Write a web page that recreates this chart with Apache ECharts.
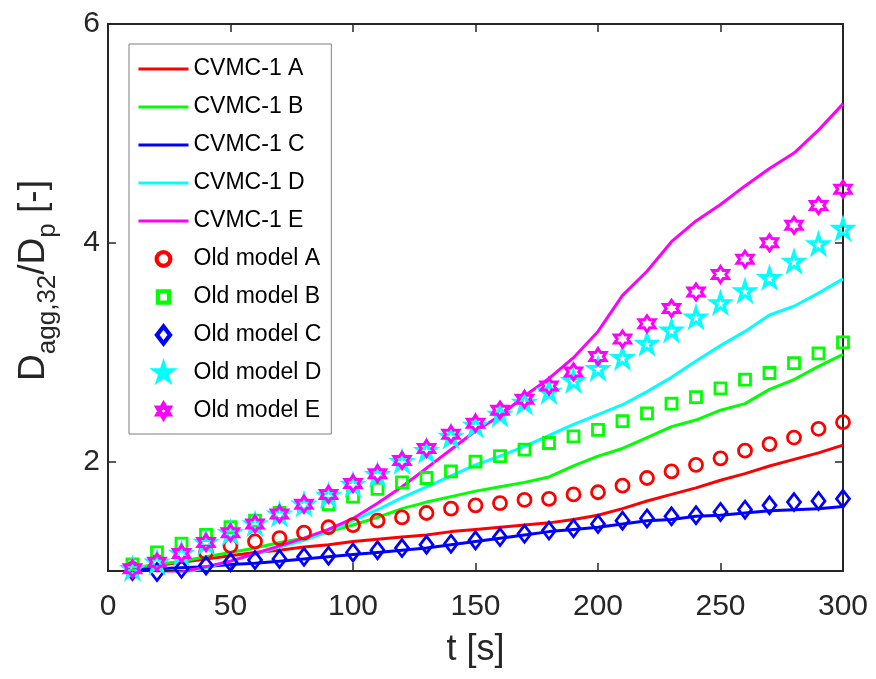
<!DOCTYPE html>
<html>
<head>
<meta charset="utf-8">
<script src="https://cdn.jsdelivr.net/npm/echarts@6/dist/echarts.min.js"></script>
<style>
  html, body { margin: 0; padding: 0; background: #fff; }
  #chart { width: 876px; height: 679px; }
</style>
</head>
<body>
<div id="chart"></div>
<script>
// Sampling times [s]
const timeSteps = [10, 20, 30, 40, 50, 60, 70, 80, 90, 100,
                   110, 120, 130, 140, 150, 160, 170, 180, 190, 200,
                   210, 220, 230, 240, 250, 260, 270, 280, 290, 300];

// CVMC-1 results, D_agg,32 / D_p
const cvmcA = [1.02, 1.05, 1.08, 1.11, 1.14, 1.17, 1.19, 1.22, 1.24, 1.27,
               1.29, 1.31, 1.33, 1.36, 1.38, 1.40, 1.42, 1.44, 1.47, 1.51,
               1.57, 1.64, 1.70, 1.76, 1.83, 1.89, 1.96, 2.02, 2.08, 2.15];
const cvmcB = [1.03, 1.06, 1.09, 1.13, 1.17, 1.21, 1.26, 1.30, 1.36, 1.42,
               1.49, 1.57, 1.63, 1.68, 1.73, 1.77, 1.81, 1.86, 1.96, 2.05,
               2.12, 2.22, 2.32, 2.38, 2.47, 2.53, 2.66, 2.75, 2.87, 2.98];
const cvmcC = [1.01, 1.02, 1.03, 1.04, 1.06, 1.07, 1.09, 1.11, 1.13, 1.15,
               1.17, 1.19, 1.21, 1.24, 1.27, 1.30, 1.33, 1.36, 1.38, 1.40,
               1.43, 1.46, 1.47, 1.50, 1.51, 1.53, 1.55, 1.56, 1.57, 1.59];
const cvmcD = [0.93, 0.95, 0.98, 1.03, 1.09, 1.15, 1.22, 1.28, 1.36, 1.46,
               1.56, 1.67, 1.77, 1.87, 1.97, 2.05, 2.14, 2.24, 2.34, 2.43,
               2.52, 2.64, 2.77, 2.92, 3.06, 3.19, 3.34, 3.42, 3.54, 3.67];
const cvmcE = [0.95, 0.97, 0.99, 1.04, 1.09, 1.16, 1.23, 1.30, 1.38, 1.48,
               1.62, 1.77, 1.94, 2.11, 2.28, 2.42, 2.60, 2.76, 2.95, 3.19,
               3.52, 3.74, 4.01, 4.20, 4.35, 4.52, 4.68, 4.82, 5.03, 5.27];

// Old model results, D_agg,32 / D_p
const oldA = [1.02, 1.08, 1.14, 1.17, 1.23, 1.27, 1.30, 1.35, 1.40, 1.42,
              1.46, 1.49, 1.53, 1.57, 1.60, 1.62, 1.65, 1.66, 1.70, 1.72,
              1.78, 1.85, 1.91, 1.97, 2.03, 2.10, 2.16, 2.22, 2.30, 2.36];
const oldB = [1.06, 1.17, 1.25, 1.33, 1.40, 1.46, 1.53, 1.59, 1.61, 1.68,
              1.75, 1.81, 1.85, 1.91, 2.00, 2.05, 2.11, 2.17, 2.23, 2.29,
              2.37, 2.44, 2.53, 2.59, 2.67, 2.75, 2.81, 2.90, 2.99, 3.09];
const oldC = [1.00, 0.99, 1.02, 1.05, 1.08, 1.10, 1.11, 1.13, 1.14, 1.17,
              1.19, 1.21, 1.24, 1.25, 1.28, 1.31, 1.34, 1.37, 1.39, 1.43,
              1.46, 1.48, 1.50, 1.51, 1.54, 1.56, 1.60, 1.63, 1.64, 1.66];
const oldD = [1.02, 1.08, 1.16, 1.26, 1.35, 1.43, 1.52, 1.61, 1.69, 1.79,
              1.88, 2.00, 2.10, 2.23, 2.33, 2.43, 2.54, 2.64, 2.74, 2.85,
              2.95, 3.08, 3.20, 3.32, 3.45, 3.56, 3.68, 3.83, 3.99, 4.13];
const oldE = [1.02, 1.08, 1.16, 1.26, 1.35, 1.43, 1.52, 1.61, 1.70, 1.80,
              1.89, 2.01, 2.12, 2.25, 2.35, 2.47, 2.57, 2.69, 2.82, 2.96,
              3.12, 3.26, 3.40, 3.55, 3.71, 3.85, 4.00, 4.16, 4.34, 4.49];

// Axis ticks
const xTicks = [0, 50, 100, 150, 200, 250, 300];
const yTicks = [2, 4, 6];

const lineNames = ['CVMC-1 A', 'CVMC-1 B', 'CVMC-1 C', 'CVMC-1 D', 'CVMC-1 E'];
const markerNames = ['Old model A', 'Old model B', 'Old model C', 'Old model D', 'Old model E'];
const palette = ['#ff0000', '#00ff00', '#0000ff', '#00ffff', '#ff00ff'];

// Marker outlines (MATLAB-like o, s, d, p, h)
const markerPaths = [
  'path://M0,-10A10,10 0 1 1 0,10A10,10 0 1 1 0,-10Z',
  'path://M-10,-10L10,-10L10,10L-10,10Z',
  'path://M0,-13L10,0L0,13L-10,0Z',
  'path://M0,-10L2.245,-3.09L9.511,-3.09L3.633,1.18L5.878,8.09L0,3.82L-5.878,8.09L-3.633,1.18L-9.511,-3.09L-2.245,-3.09Z',
  'path://M0,-10L2.887,-5L8.66,-5L5.774,0L8.66,5L2.887,5L0,10L-2.887,5L-8.66,5L-5.774,0L-8.66,-5L-2.887,-5Z'
];
const markerSizes = [13, 11, [13, 17], 18, 16];
const markerStroke = [2.8, 2.8, 2.8, 3.2, 3.0];

// Legend glyphs: same outlines inside a common 26x26 frame so all keep their relative size
const FRAME = 'M-13,-13M13,13';
const legendPaths = [
  'path://' + FRAME + 'M0,-10.5A10.5,10.5 0 1 1 0,10.5A10.5,10.5 0 1 1 0,-10.5Z',
  'path://' + FRAME + 'M-8.5,-8.5L8.5,-8.5L8.5,8.5L-8.5,8.5Z',
  'path://' + FRAME + 'M0,-13L10,0L0,13L-10,0Z',
  'path://' + FRAME + 'M0,-11L2.47,-3.399L10.462,-3.399L3.996,1.298L6.466,8.899L0,4.202L-6.466,8.899L-3.996,1.298L-10.462,-3.399L-2.47,-3.399Z',
  'path://' + FRAME + 'M0,-10L2.887,-5L8.66,-5L5.774,0L8.66,5L2.887,5L0,10L-2.887,5L-8.66,5L-5.774,0L-8.66,-5L-2.887,-5Z'
];
const LEGEND_ICON_H = 17;
const legendScale = LEGEND_ICON_H / 26;

const FONT = 'Liberation Sans';
const AX = '#262626';

function pairs(vals) {
  return timeSteps.map((t, i) => [t, vals[i]]);
}

const lineData = [cvmcA, cvmcB, cvmcC, cvmcD, cvmcE];
const markerData = [oldA, oldB, oldC, oldD, oldE];

const series = [];
lineData.forEach((vals, i) => {
  series.push({
    name: lineNames[i],
    type: 'line',
    data: pairs(vals),
    symbol: 'none',
    clip: true,
    z: 2,
    lineStyle: { color: palette[i], width: 3 },
    itemStyle: { color: palette[i] }
  });
});
markerData.forEach((vals, i) => {
  series.push({
    name: markerNames[i],
    type: 'scatter',
    data: pairs(vals),
    symbol: markerPaths[i],
    symbolSize: markerSizes[i],
    clip: false,
    z: 3,
    itemStyle: { color: 'none', borderColor: palette[i], borderWidth: markerStroke[i], opacity: 1 }
  });
});

const legendItems = lineNames.map((n, i) => ({
  name: n,
  itemStyle: { color: 'none', borderWidth: 0 },
  lineStyle: { color: palette[i], width: 3 }
})).concat(markerNames.map((n, i) => ({
  name: n,
  icon: legendPaths[i],
  itemStyle: { color: 'none', borderColor: palette[i], borderWidth: markerStroke[i] / legendScale }
})));

const chart = echarts.init(document.getElementById('chart'), null, { renderer: 'canvas' });

chart.setOption({
  animation: false,
  backgroundColor: '#fff',
  grid: { left: 108, right: 33, top: 24, bottom: 108, containLabel: false },
  legend: {
    orient: 'vertical',
    left: 129,
    top: 44,
    padding: [13, 10, 11, 8],
    itemWidth: 50,
    itemHeight: LEGEND_ICON_H,
    itemGap: 14,
    symbolKeepAspect: true,
    backgroundColor: '#fff',
    borderColor: '#7f7f7f',
    borderWidth: 1,
    borderRadius: 0,
    selectedMode: false,
    textStyle: { fontFamily: FONT, fontSize: 23, color: '#000', lineHeight: 24 },
    data: legendItems
  },
  xAxis: [{
    type: 'value',
    min: 0, max: 300, interval: 50,
    name: 't [s]',
    nameLocation: 'middle',
    nameGap: 61,
    nameTextStyle: { fontFamily: FONT, fontSize: 36, color: AX },
    axisLine: { show: true, lineStyle: { color: AX, width: 2 } },
    axisTick: { show: true, inside: true, length: 8, lineStyle: { color: AX, width: 1.5 } },
    axisLabel: { show: true, margin: 21, fontFamily: FONT, fontSize: 30, color: AX },
    splitLine: { show: false }
  }, {
    type: 'value', position: 'top',
    min: 0, max: 300, interval: 50,
    axisLine: { show: true, onZero: false, lineStyle: { color: AX, width: 2 } },
    axisTick: { show: true, inside: true, length: 8, lineStyle: { color: AX, width: 1.5 } },
    axisLabel: { show: false },
    splitLine: { show: false }
  }],
  yAxis: [{
    type: 'value',
    min: 1, max: 6,
    name: '{m|D}{s|agg,32}{m|/D}{s|p}{m| [-]}',
    nameLocation: 'middle',
    nameGap: 56,
    nameTextStyle: {
      color: AX,
      padding: [0, 0, 0, 34],
      rich: {
        m: { fontFamily: FONT, fontSize: 37, lineHeight: 37, verticalAlign: 'top', color: AX },
        s: { fontFamily: FONT, fontSize: 26, lineHeight: 26, verticalAlign: 'top', padding: [20, 0, 0, 0], color: AX }
      }
    },
    axisLine: { show: true, onZero: false, lineStyle: { color: AX, width: 2 } },
    axisTick: { show: true, inside: true, length: 8, customValues: yTicks, lineStyle: { color: AX, width: 1.5 } },
    axisLabel: { show: true, margin: 8, customValues: yTicks, fontFamily: FONT, fontSize: 30, color: AX },
    splitLine: { show: false }
  }, {
    type: 'value', position: 'right',
    min: 1, max: 6,
    axisLine: { show: true, onZero: false, lineStyle: { color: AX, width: 2 } },
    axisTick: { show: true, inside: true, length: 8, customValues: yTicks, lineStyle: { color: AX, width: 1.5 } },
    axisLabel: { show: false },
    splitLine: { show: false }
  }],
  series: series
});
</script>
</body>
</html>
